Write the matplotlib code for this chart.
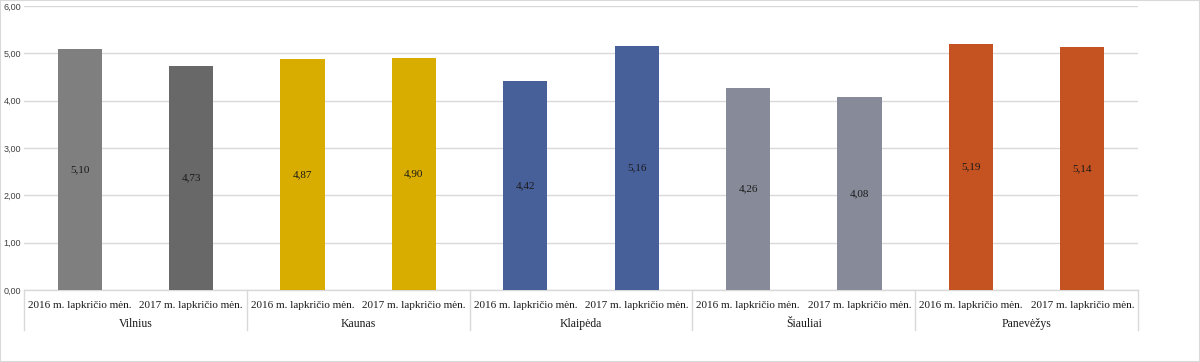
import matplotlib
matplotlib.use("Agg")
import matplotlib.pyplot as plt
from matplotlib.patches import Rectangle
from matplotlib.transforms import blended_transform_factory

cities = ["Vilnius", "Kaunas", "Klaipėda", "Šiauliai", "Panevėžys"]
periods = ["2016 m. lapkričio mėn.", "2017 m. lapkričio mėn."]
values = [5.10, 4.73, 4.87, 4.90, 4.42, 5.16, 4.26, 4.08, 5.19, 5.14]
value_labels = ["5,10", "4,73", "4,87", "4,90", "4,42", "5,16", "4,26", "4,08", "5,19", "5,14"]
colors = ["#7f7f7f", "#686868", "#d9ad00", "#d9ad00", "#47609a", "#47609a",
          "#878a99", "#878a99", "#c55221", "#c55221"]
yticks = [0, 1, 2, 3, 4, 5, 6]
ytick_labels = ["0,00", "1,00", "2,00", "3,00", "4,00", "5,00", "6,00"]

fig = plt.figure(figsize=(12, 3.62), dpi=100)
ax = fig.add_axes([24/1200, 1-290/362, (1138-24)/1200, (290-6)/362])

x = list(range(len(values)))
ax.bar(x, values, width=0.395, color=colors, zorder=3)
for xi, v, lab in zip(x, values, value_labels):
    ax.text(xi, v/2, lab, ha="center", va="center", fontsize=8,
            family="Liberation Serif", color="#1a1a1a", zorder=4)

ax.set_xlim(-0.5, len(values)-0.5)
ax.set_ylim(0, 6)
ax.set_yticks(yticks)
ax.set_yticklabels(ytick_labels, fontsize=6.5, family="Liberation Sans", color="#404040")
ax.tick_params(axis="y", length=0, pad=2)
ax.yaxis.grid(True, color="#d9d9d9", linewidth=1, zorder=0)
ax.set_axisbelow(True)
for s in ["left", "right", "top"]:
    ax.spines[s].set_visible(False)
ax.spines["bottom"].set_color("#d9d9d9")
ax.spines["bottom"].set_linewidth(1)

ax.set_xticks(x)
ax.set_xticklabels([periods[i % 2] for i in x], fontsize=8, family="Liberation Serif", color="#1a1a1a")
ax.tick_params(axis="x", length=0, pad=8)

trans = blended_transform_factory(ax.transData, ax.transAxes)
for g in range(len(cities)+1):
    xb = g*2 - 0.5
    ax.plot([xb, xb], [0, -40/284], transform=trans, color="#d9d9d9", lw=1, clip_on=False)
for g, c in enumerate(cities):
    ax.text(g*2+0.5, -34/284, c, transform=trans, ha="center", va="center",
            fontsize=8.5, family="Liberation Serif", color="#1a1a1a")

fig.patches.append(Rectangle((0, 0), 1, 1, transform=fig.transFigure, fill=False,
                             edgecolor="#d9d9d9", lw=1.5))
fig.savefig("out.png", dpi=100)
